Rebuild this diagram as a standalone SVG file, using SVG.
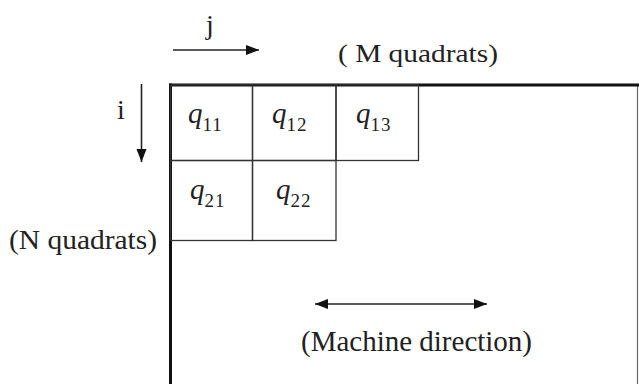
<svg xmlns="http://www.w3.org/2000/svg" width="639" height="384" viewBox="0 0 639 384">
<style>
.t{font-family:"Liberation Serif","Times New Roman",serif;fill:#222}
.q{font-family:"Liberation Serif","Times New Roman",serif;fill:#222;font-size:29px}
.q .v{font-style:italic}
.q .s{font-size:19px;letter-spacing:1px}
.cell{fill:none;stroke:#333;stroke-width:1.3}
.arr{stroke:#222;stroke-width:1.6;fill:none}
</style>
<defs>
<marker id="ah" markerUnits="userSpaceOnUse" markerWidth="14" markerHeight="11" refX="13" refY="5.5" orient="auto-start-reverse">
<path d="M0,0.5 L13,5.5 L0,10.5 z" fill="#111"/>
</marker>
</defs>
<rect width="639" height="384" fill="#fff"/>
<g id="frame">
<line x1="637.5" y1="84" x2="637.5" y2="384" stroke="#666" stroke-width="1.2"/>
<line x1="169" y1="85" x2="639" y2="85" stroke="#111" stroke-width="3"/>
<line x1="170.5" y1="83.5" x2="170.5" y2="384" stroke="#111" stroke-width="3"/>
</g>
<g id="q11"><rect class="cell" x="170.5" y="85" width="82" height="75.5"/><text class="q" x="188" y="123"><tspan class="v">q</tspan><tspan class="s" dy="8">11</tspan></text></g>
<g id="q12"><rect class="cell" x="252.5" y="85" width="83.5" height="75.5"/><text class="q" x="272" y="123"><tspan class="v">q</tspan><tspan class="s" dy="8">12</tspan></text></g>
<g id="q13"><rect class="cell" x="336" y="85" width="82.5" height="75.5"/><text class="q" x="356" y="123"><tspan class="v">q</tspan><tspan class="s" dy="8">13</tspan></text></g>
<g id="q21"><rect class="cell" x="170.5" y="160.5" width="82" height="80"/><text class="q" x="190" y="199"><tspan class="v">q</tspan><tspan class="s" dy="8">21</tspan></text></g>
<g id="q22"><rect class="cell" x="252.5" y="160.5" width="83.5" height="80"/><text class="q" x="276" y="199"><tspan class="v">q</tspan><tspan class="s" dy="8">22</tspan></text></g>
<g id="labels">
<text class="t" x="210" y="34" font-size="28" text-anchor="middle">j</text>
<text class="t" x="121" y="119" font-size="28" text-anchor="middle">i</text>
<text class="t" x="338" y="62" font-size="25" textLength="160" lengthAdjust="spacingAndGlyphs">( M quadrats)</text>
<text class="t" x="9" y="249" font-size="28" textLength="148" lengthAdjust="spacingAndGlyphs">(N quadrats)</text>
<text class="t" x="301" y="351" font-size="29" textLength="231" lengthAdjust="spacingAndGlyphs">(Machine direction)</text>
</g>
<g id="connectors">
<line class="arr" x1="173" y1="50" x2="259" y2="50" marker-end="url(#ah)"/>
<line class="arr" x1="141.5" y1="84" x2="141.5" y2="162" marker-end="url(#ah)"/>
<line class="arr" x1="315" y1="304" x2="487" y2="304" marker-start="url(#ah)" marker-end="url(#ah)"/>
</g>
</svg>
